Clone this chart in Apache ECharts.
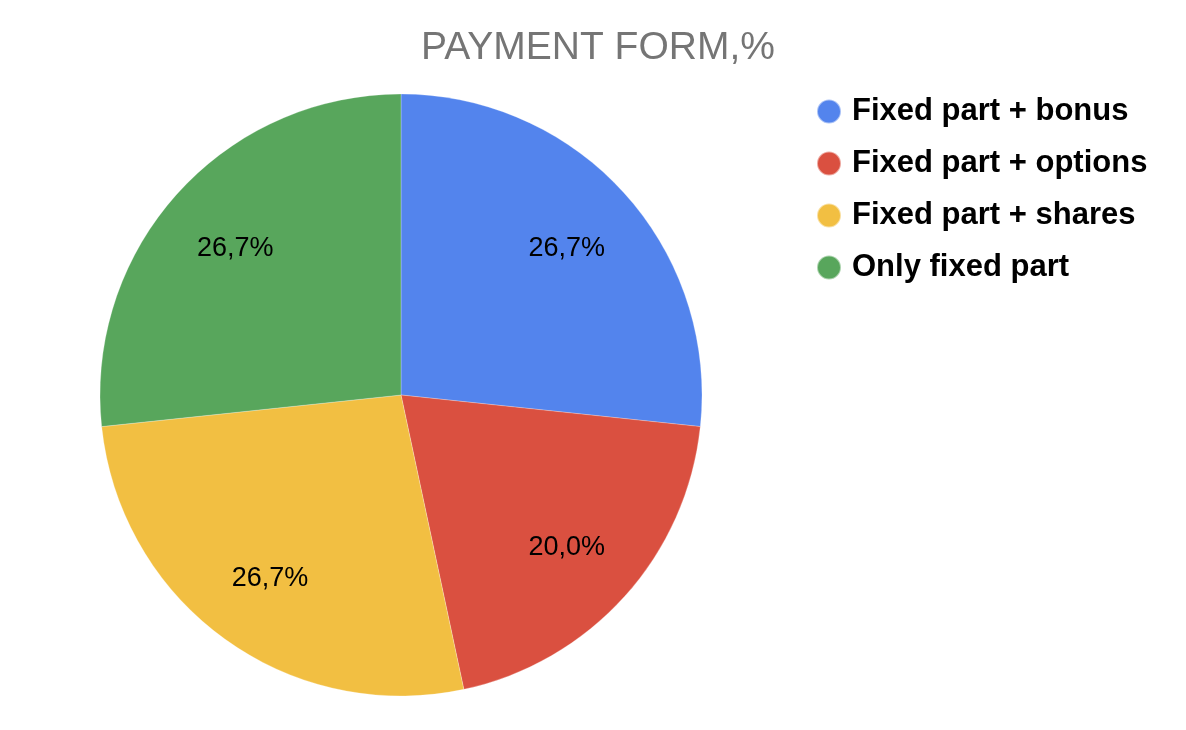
<!DOCTYPE html>
<html>
<head>
<meta charset="utf-8">
<script src="https://cdn.jsdelivr.net/npm/echarts@6/dist/echarts.min.js"></script>
<style>
html,body{margin:0;padding:0;background:#fff;}
#chart{width:1186px;height:730px;}
</style>
</head>
<body>
<div id="chart"></div>
<script>
const categories = ['Fixed part + bonus', 'Fixed part + options', 'Fixed part + shares', 'Only fixed part'];
const values = [26.7, 20.0, 26.7, 26.7];
const colors = ['#5384ED', '#DA5040', '#F2BF42', '#58A65C'];
const titleText = 'PAYMENT FORM,%';

const FONT = '"Liberation Sans", Arial, sans-serif';
const data = categories.map((c, i) => ({ name: c, value: values[i], itemStyle: { color: colors[i] } }));
const fmt = p => p.value.toFixed(1).replace('.', ',') + '%';

const chart = echarts.init(document.getElementById('chart'), null, { renderer: 'canvas' });
chart.setOption({
  animation: false,
  backgroundColor: '#ffffff',
  title: {
    text: titleText,
    left: 593, top: 24, textAlign: 'center',
    textStyle: { fontFamily: FONT, fontSize: 39, fontWeight: 'normal', color: '#757575' }
  },
  legend: {
    orient: 'vertical',
    left: 811, top: 91,
    icon: 'circle',
    itemWidth: 24, itemHeight: 24, itemGap: 21,
    textStyle: { fontFamily: FONT, fontSize: 31, fontWeight: 'bold', color: '#000', padding: [0, 0, 0, 6] },
    data: categories
  },
  series: [
    {
      type: 'pie',
      center: [401, 395],
      radius: 301,
      startAngle: 90,
      clockwise: true,
      label: { show: false },
      labelLine: { show: false },
      itemStyle: { borderColor: 'rgba(255,255,255,0.5)', borderWidth: 0.5 },
      emphasis: { disabled: true },
      data: data
    },
    {
      type: 'pie',
      center: [401, 398],
      radius: [139, 301],
      startAngle: 90,
      clockwise: true,
      silent: true,
      legendHoverLink: false,
      itemStyle: { color: 'rgba(0,0,0,0)', borderWidth: 0 },
      label: {
        show: true, position: 'inside', formatter: fmt,
        fontFamily: FONT, fontSize: 27, color: '#000'
      },
      labelLine: { show: false },
      emphasis: { disabled: true },
      data: categories.map((c, i) => ({ name: c, value: values[i], itemStyle: { color: 'rgba(0,0,0,0)' } }))
    }
  ]
});
</script>
</body>
</html>
